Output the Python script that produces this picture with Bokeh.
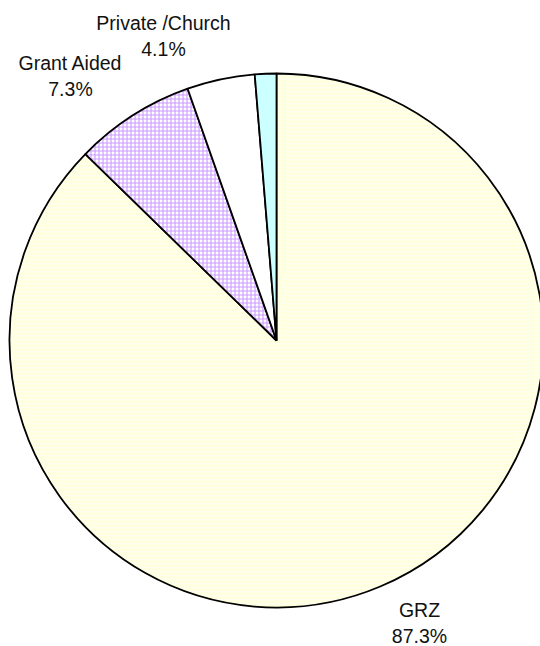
import math

from bokeh.plotting import figure
from bokeh.models import ColumnDataSource, Range1d
from bokeh.core.properties import value
from bokeh.embed import file_html
from bokeh.resources import INLINE

# Share of schools by agency (percent), clockwise from 12 o'clock
agencies = ["GRZ", "Grant Aided", "Private /Church", "Other"]
shares = [87.3, 7.3, 4.1, 1.3]
label_texts = ["87.3%", "7.3%", "4.1%", ""]

W, H = 540, 646
CX, CY, R = 276, H - 340, 267

p = figure(width=W, height=H, output_backend="svg", toolbar_location=None,
           x_range=Range1d(0, W), y_range=Range1d(0, H),
           min_border=0, outline_line_color=None)
p.axis.visible = False
p.grid.visible = False
p.background_fill_color = "white"
p.border_fill_color = "white"

total = sum(shares)
starts, ends = [], []
cum = 0.0
for s in shares:
    starts.append(math.pi / 2 - 2 * math.pi * cum / total)
    cum += s
    ends.append(math.pi / 2 - 2 * math.pi * cum / total)

fills = ["#FFFFF4", "#FFFFFF", "#FFFFFF", "#CCFFFF"]
hatches = ["\\", "+", " ", " "]
hatch_colors = ["#FFFFD8", "#CC99FF", "#FFFFFF", "#CCFFFF"]

src = ColumnDataSource(dict(start=starts, end=ends, fill=fills,
                            hatch=hatches, hcol=hatch_colors, name=agencies,
                            share=shares))
p.wedge(x=CX, y=CY, radius=R, start_angle="start", end_angle="end",
        direction="clock", source=src, fill_color="fill",
        hatch_pattern="hatch", hatch_color="hcol", hatch_scale=4,
        hatch_weight=1.1, line_color="black", line_width=1.8)

# Outside labels: category name above its percentage
label_pos = {"GRZ": (419, 609), "Grant Aided": (70, 62),
             "Private /Church": (163, 22)}
for name, pct in zip(agencies, label_texts):
    if name not in label_pos:
        continue
    lx, ly = label_pos[name]
    p.text(x=[lx, lx], y=[H - ly, H - ly - 26], text=[name, pct],
           text_font=value("Liberation Sans"), text_font_size="19.5px",
           text_color="#111111", text_align="center",
           text_baseline="middle")

open("out.html", "w").write(file_html(p, INLINE))
